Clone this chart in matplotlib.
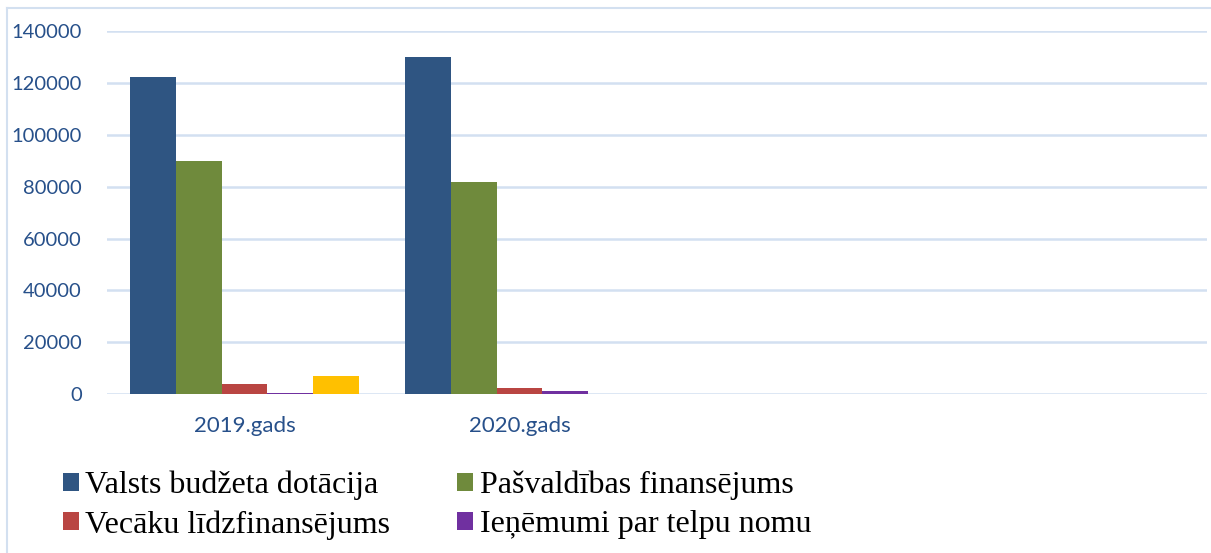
"""Grouped bar chart of funding sources per year."""

import matplotlib.pyplot as plt
import numpy as np
from matplotlib.lines import Line2D
from matplotlib.patches import Patch

categories = ["2019.gads", "2020.gads", "", ""]
series_names = [
    "Valsts budžeta dotācija",
    "Pašvaldības finansējums",
    "Vecāku līdzfinansējums",
    "Ieņēmumi par telpu nomu",
    "Citi",
]
valsts = [122300, 130000, 0, 0]
pasvaldibas = [90000, 82000, 0, 0]
vecaku = [3900, 2200, 0, 0]
ienemumi = [450, 1200, 0, 0]
citi = [7000, 0, 0, 0]
colors = ["#2f5582", "#6f8a3c", "#b94542", "#7030a0", "#ffc000"]
y_ticks = [0, 20000, 40000, 60000, 80000, 100000, 120000, 140000]

values = [valsts, pasvaldibas, vecaku, ienemumi, citi]
W, H = 1211, 553
fig = plt.figure(figsize=(W / 100, H / 100), dpi=100)
ax = fig.add_axes([107 / W, 1 - 394 / H, 1100 / W, (394 - 31.3) / H])

x = np.arange(len(categories))
width = 0.167
n = len(values)
for i, (vals, col) in enumerate(zip(values, colors)):
    offs = (i - (n - 1) / 2) * width
    ax.bar(x + offs, vals, width=width, color=col, zorder=3, linewidth=0)

ax.set_xlim(-0.5, len(categories) - 0.5)
ax.set_ylim(0, 140000)
ax.set_yticks(y_ticks)
ax.set_yticklabels([str(v) for v in y_ticks])
ax.set_xticks(x)
ax.set_xticklabels(categories)
tick_color = "#27508a"
ax.tick_params(axis="y", length=0, pad=18, labelsize=14.5, labelcolor=tick_color)
ax.tick_params(axis="x", length=0, pad=16, labelsize=16, labelcolor=tick_color)
for lab in ax.get_xticklabels() + ax.get_yticklabels():
    lab.set_family("Lato")
ax.grid(axis="y", color="#d3e0f1", linewidth=1.8, zorder=0)
for s in ax.spines.values():
    s.set_visible(False)

# chart area border (cut off on the right and bottom)
border = "#d3e0f0"
fig.add_artist(Line2D([7 / W, 1], [1 - 8 / H, 1 - 8 / H], color=border, lw=1.5))
fig.add_artist(Line2D([7 / W, 7 / W], [0, 1 - 8 / H], color=border, lw=1.5))

handles = [Patch(facecolor=colors[i]) for i in (0, 2, 1, 3)]
labels = [series_names[i] for i in (0, 2, 1, 3)]
fig.legend(handles, labels, ncol=2, loc="upper left", bbox_to_anchor=(63 / W, 1 - 471 / H),
           frameon=False, prop={"family": "Liberation Serif", "size": 23},
           handlelength=0.5, handleheight=0.5, handletextpad=0.2,
           columnspacing=2.1, labelspacing=0.3, borderpad=0, borderaxespad=0)

fig.savefig("out.png", dpi=100)
